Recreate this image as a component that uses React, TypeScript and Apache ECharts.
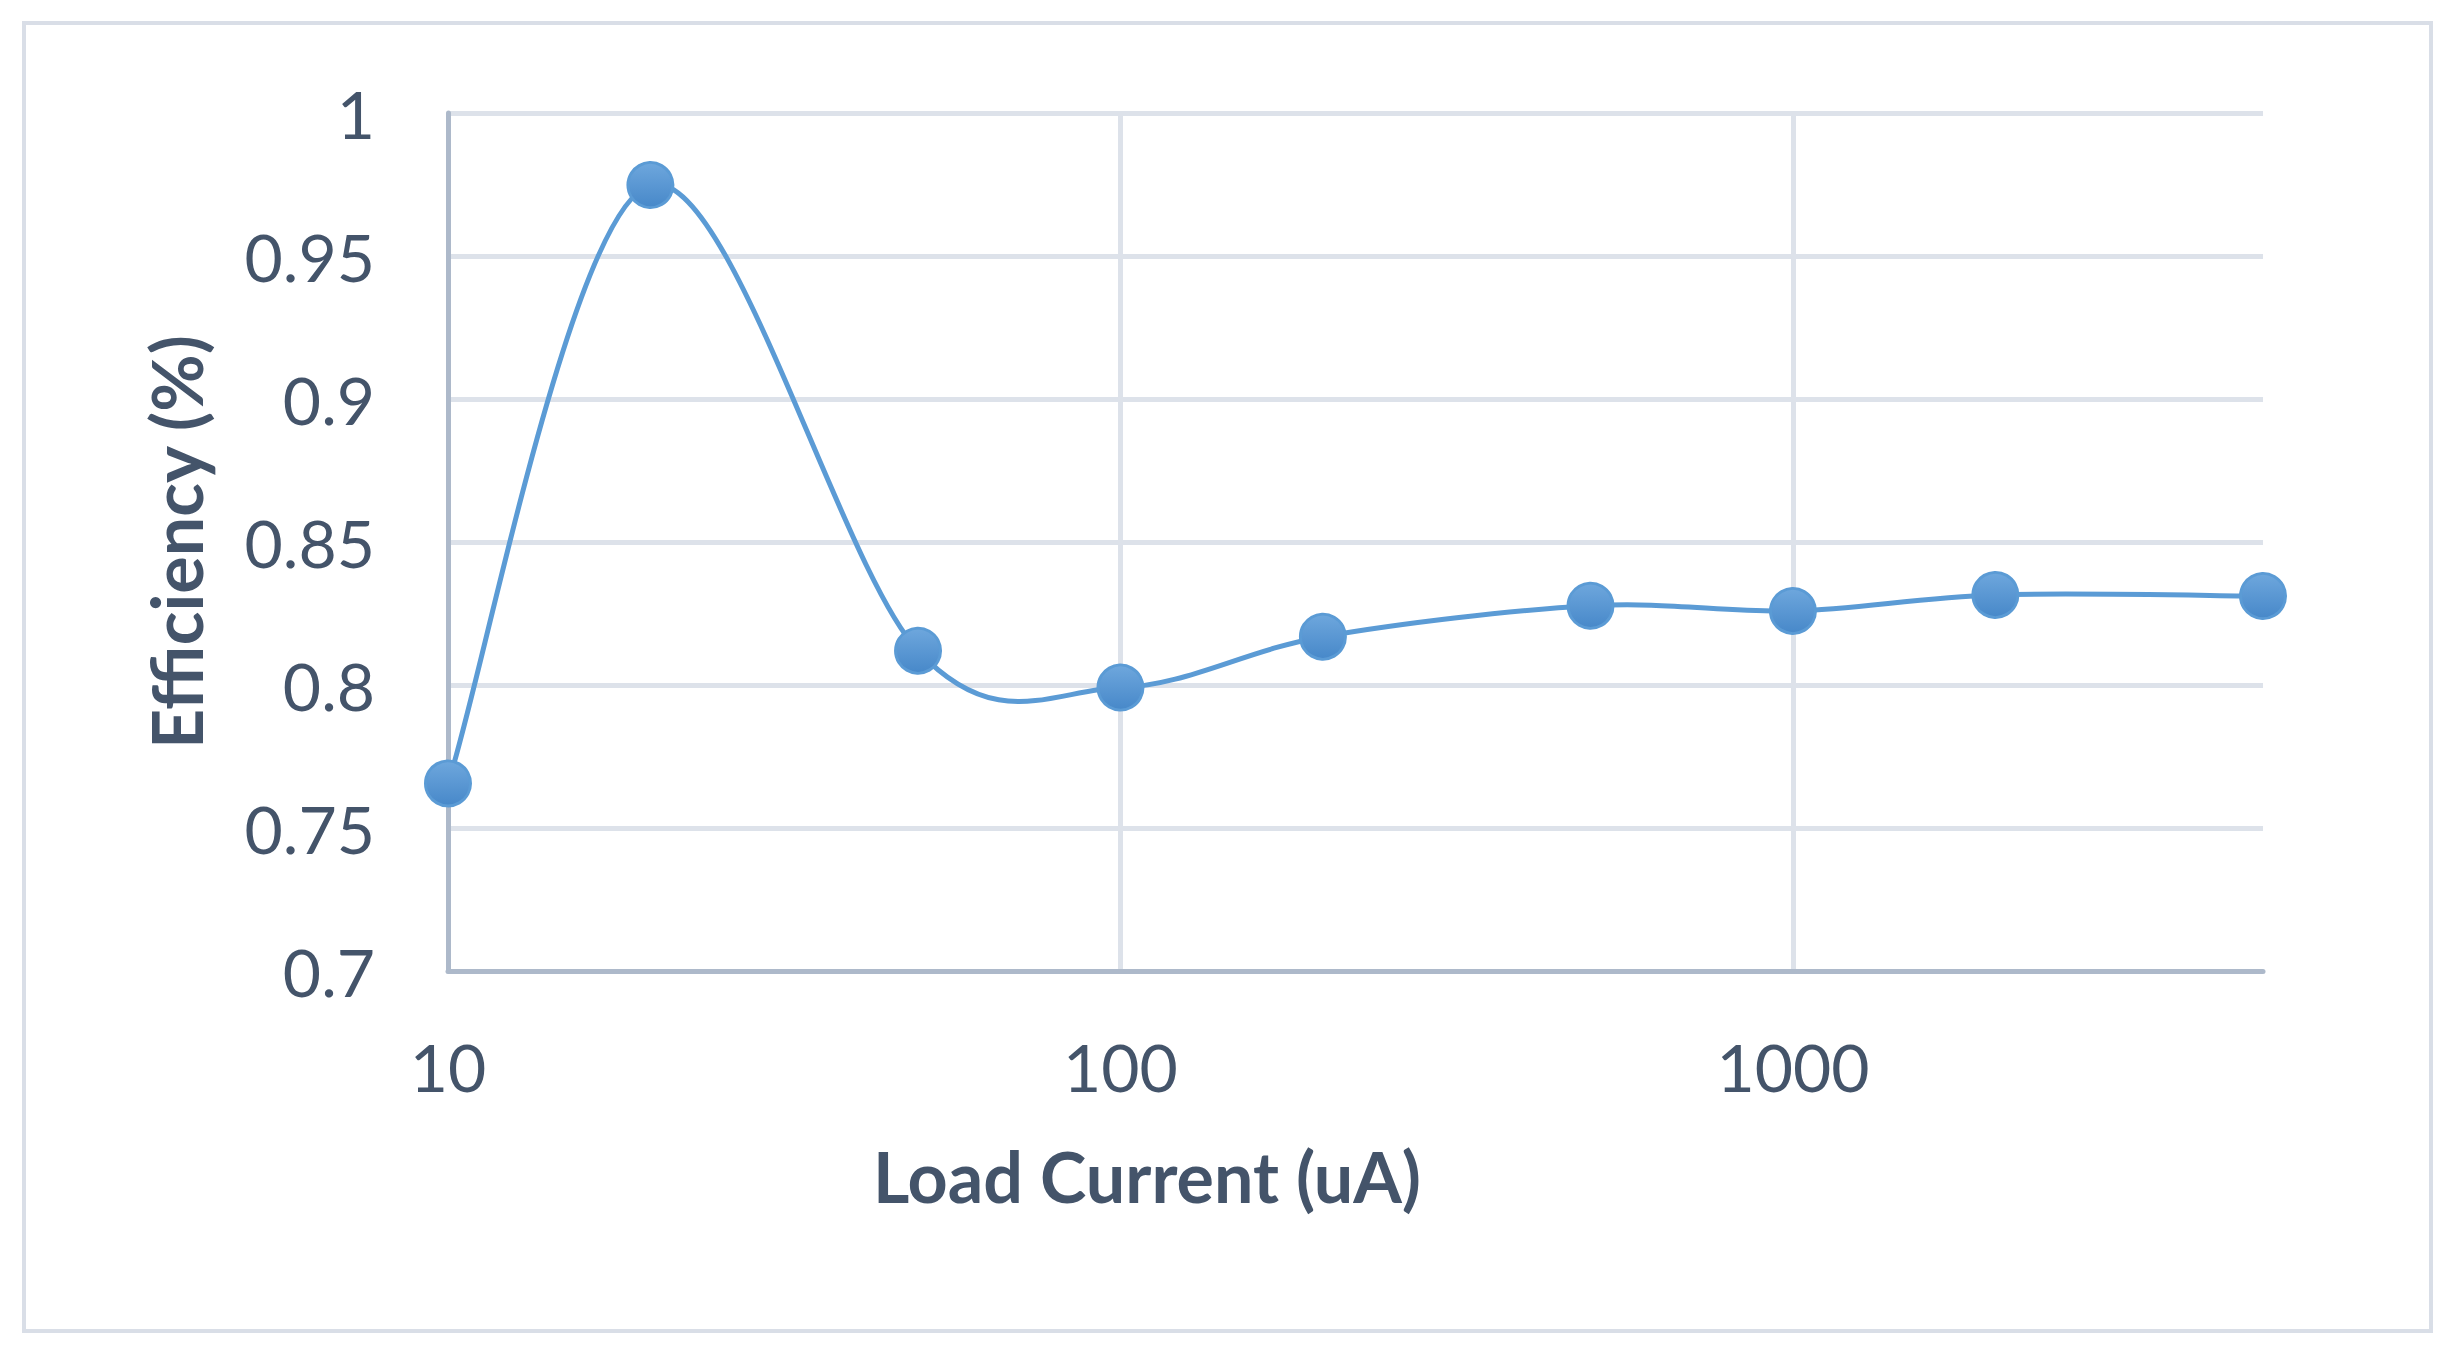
import React, { useEffect, useRef } from "react";
import * as echarts from "echarts";

// Load current (uA) on a log axis, efficiency as a fraction
const loadCurrent = [10, 20, 50, 100, 200, 500, 1000, 2000, 5000];
const efficiency = [0.7656, 0.9748, 0.812, 0.7991, 0.8169, 0.8277, 0.8259, 0.8315, 0.8311];

const yMin = 0.7;
const yMax = 1;
const yInterval = 0.05;
const xMin = 10;
const xMax = 5000;

const xTitle = "Load Current (uA)";
const yTitle = "Efficiency (%)";

export default function App() {
  const ref = useRef<HTMLDivElement>(null);

  useEffect(() => {
    const chart = echarts.init(ref.current as HTMLDivElement, null, { renderer: "svg" });
    const points = loadCurrent.map((x, i) => [x, efficiency[i]]);
    const textColor = "#44546A";
    const font = "Lato, 'Open Sans', sans-serif";
    const gridColor = "#DDE2EA";
    const axisColor = "#ADB9CA";
    const lineColor = "#5B9BD5";

    chart.setOption({
      animation: false,
      backgroundColor: "#ffffff",
      grid: { left: 448, top: 113, right: 193, bottom: 394, containLabel: false },
      xAxis: {
        type: "log",
        logBase: 10,
        min: xMin,
        max: xMax,
        axisLine: { show: true, onZero: false, lineStyle: { color: axisColor, width: 5 } },
        axisTick: { show: false },
        minorTick: { show: false },
        axisLabel: {
          color: textColor,
          fontSize: 66,
          fontFamily: font,
          margin: 62,
          showMaxLabel: false,
          formatter: (v: number) => {
            const l = Math.log10(v);
            return Math.abs(l - Math.round(l)) < 1e-6 ? String(Math.round(v)) : "";
          },
        },
        splitLine: { show: true, showMaxLine: false, lineStyle: { color: gridColor, width: 5 } },
      },
      yAxis: {
        type: "value",
        min: yMin,
        max: yMax,
        interval: yInterval,
        axisLine: { show: true, onZero: false, lineStyle: { color: axisColor, width: 5 } },
        axisTick: { show: false },
        axisLabel: {
          color: textColor,
          fontSize: 66,
          fontFamily: font,
          margin: 73,
          formatter: (v: number) => String(Math.round(v * 100) / 100),
        },
        splitLine: { show: true, lineStyle: { color: gridColor, width: 5 } },
      },
      graphic: [
        {
          type: "rect",
          shape: { x: 24, y: 23, width: 2407, height: 1308 },
          style: { stroke: "#D9DEE7", lineWidth: 4, fill: "none" },
          silent: true,
          z: -10,
        },
        {
          type: "text",
          x: 1147,
          y: 1176,
          style: {
            text: xTitle,
            fill: textColor,
            fontSize: 70,
            fontWeight: "bold",
            fontFamily: font,
            align: "center",
            verticalAlign: "middle",
          },
        },
        {
          type: "text",
          x: 176,
          y: 542,
          rotation: Math.PI / 2,
          style: {
            text: yTitle,
            fill: textColor,
            fontSize: 70,
            fontWeight: "bold",
            fontFamily: font,
            align: "center",
            verticalAlign: "middle",
          },
        },
      ],
      series: [
        {
          type: "custom",
          name: "curve",
          data: points,
          encode: { x: 0, y: 1 },
          silent: true,
          z: 2,
          renderItem: (params: any, api: any) => {
            const i = params.dataIndex;
            const n = points.length;
            if (i >= n - 1) return { type: "group", children: [] };
            const c = points.map((p) => api.coord(p));
            const p0 = c[Math.max(i - 1, 0)];
            const p1 = c[i];
            const p2 = c[i + 1];
            const p3 = c[Math.min(i + 2, n - 1)];
            const t = 1 / 6;
            return {
              type: "bezierCurve",
              shape: {
                x1: p1[0],
                y1: p1[1],
                x2: p2[0],
                y2: p2[1],
                cpx1: p1[0] + (p2[0] - p0[0]) * t,
                cpy1: p1[1] + (p2[1] - p0[1]) * t,
                cpx2: p2[0] - (p3[0] - p1[0]) * t,
                cpy2: p2[1] - (p3[1] - p1[1]) * t,
              },
              style: { stroke: lineColor, lineWidth: 5, fill: "none", lineCap: "round" },
            };
          },
        },
        {
          type: "scatter",
          name: "Efficiency",
          data: points,
          symbol: "circle",
          symbolSize: 45,
          z: 3,
          itemStyle: {
            color: new echarts.graphic.LinearGradient(0, 0, 0, 1, [
              { offset: 0, color: "#6EA7DD" },
              { offset: 1, color: "#4788C9" },
            ]),
            borderColor: lineColor,
            borderWidth: 3,
            opacity: 1,
          },
        },
      ],
    });

    return () => chart.dispose();
  }, []);

  return (
    <div
      ref={ref}
      style={{ position: "fixed", left: 0, top: 0, width: 2456, height: 1365, background: "#fff" }}
    />
  );
}
